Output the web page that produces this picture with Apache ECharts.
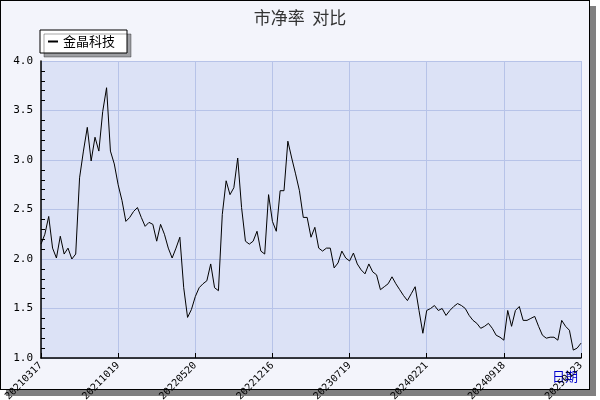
<!DOCTYPE html>
<html>
<head>
<meta charset="utf-8">
<script src="https://cdn.jsdelivr.net/npm/echarts@6/dist/echarts.min.js"></script>
<style>
  body { margin: 0; background: #fff; }
  #frame { position: absolute; left: 0; top: 0; width: 588px; height: 388px; border: 1px solid #000; background: #f3f4fb; box-shadow: 6px 6px 0 #808080; }
  #chart { position: absolute; left: 0; top: 0; width: 600px; height: 400px; }
</style>
</head>
<body>
<div id="frame"></div>
<div id="chart"></div>
<script>
const tickDates = ['20210317', '20211019', '20220520', '20221216', '20230719', '20240221', '20240918', '20250123'];
const step = 20;

const pbValues = [
    2.15, 2.25, 2.43, 2.11, 2.01, 2.23, 2.05, 2.11, 2.00, 2.05,
    2.82, 3.09, 3.33, 2.99, 3.23, 3.09, 3.49, 3.73, 3.09, 2.96,
    2.75, 2.59, 2.38, 2.42, 2.48, 2.52, 2.42, 2.33, 2.37, 2.35,
    2.18, 2.35, 2.25, 2.11, 2.01, 2.11, 2.22, 1.71, 1.41, 1.49,
    1.62, 1.71, 1.75, 1.78, 1.95, 1.71, 1.68, 2.45, 2.79, 2.65,
    2.72, 3.02, 2.52, 2.18, 2.15, 2.18, 2.28, 2.08, 2.05, 2.65,
    2.38, 2.28, 2.69, 2.69, 3.19, 3.02, 2.86, 2.69, 2.42, 2.42,
    2.22, 2.32, 2.11, 2.08, 2.11, 2.11, 1.91, 1.96, 2.08, 2.01,
    1.98, 2.06, 1.95, 1.89, 1.85, 1.95, 1.87, 1.84, 1.69, 1.72,
    1.75, 1.82, 1.75, 1.69, 1.63, 1.58, 1.65, 1.72, 1.48, 1.25,
    1.48, 1.50, 1.53, 1.48, 1.50, 1.43, 1.48, 1.52, 1.55, 1.53,
    1.50, 1.43, 1.38, 1.35, 1.30, 1.32, 1.35, 1.30, 1.23, 1.21,
    1.18, 1.48, 1.32, 1.48, 1.52, 1.38, 1.38, 1.40, 1.42, 1.32,
    1.23, 1.20, 1.21, 1.21, 1.18, 1.38, 1.32, 1.28, 1.08, 1.10,
    1.15
];

// category labels: only every 20th point carries a date
const categories = pbValues.map((v, i) => (i % step === 0 ? tickDates[i / step] : 'd' + i));

const chart = echarts.init(document.getElementById('chart'));
chart.setOption({
    animation: false,
    backgroundColor: 'transparent',
    title: {
        text: '市净率  对比', left: 'center', top: 4,
        textStyle: { fontSize: 17, fontWeight: 'normal', color: '#333', fontFamily: 'Noto Sans CJK SC' }
    },
    legend: {
        left: 40, top: 30, padding: [5, 12, 5, 8],
        backgroundColor: '#fff', borderColor: '#000', borderWidth: 1, borderRadius: 0,
        shadowColor: 'rgba(0,0,0,0.35)', shadowOffsetX: 4, shadowOffsetY: 4,
        itemWidth: 10, itemHeight: 2, icon: 'rect',
        textStyle: { fontSize: 13, color: '#000', fontFamily: 'Noto Sans CJK SC' },
        data: ['金晶科技']
    },
    grid: {
        left: 41, right: 19, top: 61, bottom: 42, show: true,
        outerBoundsMode: 'none', containLabel: false,
        backgroundColor: '#dce2f6', borderWidth: 0
    },
    xAxis: {
        type: 'category', data: categories, boundaryGap: false,
        axisLine: { lineStyle: { color: '#000', width: 1.5 } },
        axisTick: { inside: true, interval: step - 1, length: 5, lineStyle: { color: '#000' } },
        axisLabel: {
            interval: step - 1, rotate: 45, fontSize: 10, color: '#000', margin: 6,
            fontFamily: 'DejaVu Sans Mono',
            formatter: v => (v.startsWith('d') ? '' : v)
        },
        splitLine: { show: true, interval: step - 1, lineStyle: { color: '#b7c3e8', width: 1 } }
    },
    yAxis: {
        type: 'value', min: 1, max: 4, interval: 0.5,
        axisLine: { show: true, lineStyle: { color: '#000', width: 1.5 } },
        axisTick: { inside: true, length: 6, lineStyle: { color: '#000' } },
        minorTick: { show: true, splitNumber: 5, length: 4, lineStyle: { color: '#000' } },
        axisLabel: { fontSize: 11, color: '#000', fontFamily: 'DejaVu Sans Mono', formatter: v => v.toFixed(1) },
        splitLine: { show: true, lineStyle: { color: '#b7c3e8', width: 1 } }
    },
    graphic: [{
        type: 'text', right: 22, top: 370,
        style: { text: '日期', fill: '#0000cc', font: '13px "Noto Sans CJK SC"' }
    }],
    series: [{
        name: '金晶科技', type: 'line', data: pbValues,
        symbol: 'none', lineStyle: { color: '#000', width: 1 }, itemStyle: { color: '#000' }
    }]
});
</script>
</body>
</html>
